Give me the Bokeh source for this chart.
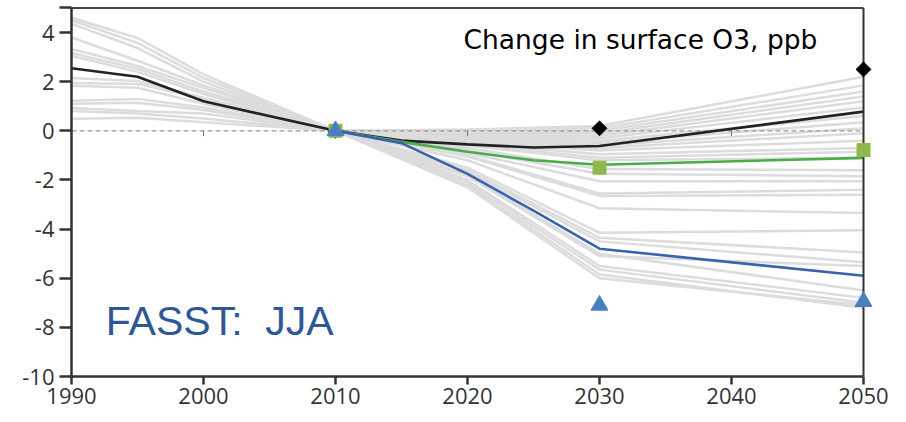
from bokeh.plotting import figure
from bokeh.models import Range1d, FixedTicker, Label
from bokeh.embed import file_html
from bokeh.resources import INLINE
import math

# ---- historical spread (1990-2010), one list per scenario ----
hist_years = [1990, 1995, 2000, 2010]
hist_gray = [
    [4.60, 3.78, 2.30, 0.0],
    [4.50, 3.58, 2.15, 0.0],
    [4.35, 3.37, 2.00, 0.0],
    [3.80, 2.85, 1.85, 0.0],
    [3.33, 2.64, 1.75, 0.0],
    [3.17, 2.52, 1.60, 0.0],
    [3.05, 2.40, 1.50, 0.0],
    [2.15, 2.03, 1.35, 0.0],
    [1.95, 1.91, 1.30, 0.0],
    [1.83, 1.75, 1.10, 0.0],
    [1.22, 1.30, 0.95, 0.0],
    [1.10, 1.14, 0.85, 0.0],
    [0.93, 0.81, 0.70, 0.0],
    [0.81, 0.70, 0.50, 0.0],
    [0.49, 0.53, 0.35, 0.0],
]

# ---- future scenario spread (2010-2050) ----
fut_years = [2010, 2020, 2030, 2050]
fut_gray = [
    [0.0, 0.05, 0.20, 2.20],
    [0.0, 0.00, 0.10, 1.85],
    [0.0, -0.05, 0.00, 1.60],
    [0.0, -0.10, -0.10, 1.40],
    [0.0, -0.15, -0.20, 1.20],
    [0.0, -0.20, -0.30, 0.95],
    [0.0, -0.25, -0.40, 0.60],
    [0.0, -0.30, -0.50, 0.35],
    [0.0, -0.35, -0.60, 0.10],
    [0.0, -0.40, -0.70, -0.10],
    [0.0, -0.45, -0.80, -0.40],
    [0.0, -0.50, -0.95, -0.70],
    [0.0, -0.55, -1.10, -0.85],
    [0.0, -0.60, -1.20, -1.10],
    [0.0, -0.70, -1.55, -1.60],
    [0.0, -0.80, -1.75, -1.85],
    [0.0, -0.90, -2.05, -2.05],
    [0.0, -1.00, -2.55, -2.40],
    [0.0, -1.05, -2.65, -2.60],
    [0.0, -1.20, -3.15, -3.35],
    [0.0, -1.50, -4.15, -4.05],
    [0.0, -1.60, -4.35, -4.95],
    [0.0, -1.65, -4.50, -5.35],
    [0.0, -1.85, -5.10, -5.50],
    [0.0, -1.80, -5.00, -6.50],
    [0.0, -2.00, -5.50, -6.80],
    [0.0, -2.10, -5.65, -7.00],
    [0.0, -2.30, -6.00, -7.10],
    [0.0, -2.20, -5.85, -7.20],
]

# ---- highlighted model lines ----
black_years = [1990, 1995, 2000, 2010, 2015, 2020, 2025, 2030, 2050]
black_vals = [2.55, 2.2, 1.2, 0.0, -0.4, -0.55, -0.68, -0.62, 0.78]

green_years = [2010, 2015, 2020, 2025, 2030, 2050]
green_vals = [0.0, -0.45, -0.85, -1.2, -1.38, -1.1]

blue_years = [2010, 2015, 2020, 2025, 2030, 2050]
blue_vals = [0.0, -0.5, -1.75, -3.25, -4.8, -5.9]

# ---- point estimates ----
mark_years = [2010, 2030, 2050]
diamond_vals = [0.0, 0.1, 2.5]
square_vals = [0.0, -1.5, -0.78]
triangle_vals = [0.0, -7.1, -6.95]

x_ticks = [1990, 2000, 2010, 2020, 2030, 2040, 2050]
y_ticks = [-10, -8, -6, -4, -2, 0, 2, 4, 5]
zero_ticks = [2000, 2020, 2040]

X0, X1 = 1990, 2050
Y0, Y1 = -10, 5

p = figure(width=906, height=422, output_backend="svg", toolbar_location=None,
           x_range=Range1d(X0, 2052.5), y_range=Range1d(Y0, 5.06),
           min_border_left=71, min_border_right=10, min_border_top=6,
           min_border_bottom=46)
p.outline_line_color = None
p.grid.visible = False
p.background_fill_color = "white"
p.border_fill_color = "white"

gray = "#dcdcdc"
p.multi_line([hist_years] * len(hist_gray), hist_gray, line_color=gray, line_width=2.5)
p.multi_line([fut_years] * len(fut_gray), fut_gray, line_color=gray, line_width=2.5)

# dashed zero reference with small ticks
p.line([X0, X1], [0, 0], line_color="#9a9a9a", line_width=1.2, line_dash="5 3")
p.segment(x0=zero_ticks, y0=[0] * 3, x1=zero_ticks, y1=[-0.22] * 3,
          line_color="#777777", line_width=1)

p.line(black_years, black_vals, line_color="#222222", line_width=2.6)
p.line(green_years, green_vals, line_color="#4aac48", line_width=2.6)
p.line(blue_years, blue_vals, line_color="#3a63ad", line_width=2.6)

# frame: top and right borders
p.segment(x0=[X0], y0=[Y1], x1=[X1], y1=[Y1], line_color="#444444", line_width=2)
p.segment(x0=[X1], y0=[Y0], x1=[X1], y1=[Y1], line_color="#333333", line_width=2)

p.scatter(mark_years, diamond_vals, marker="square", angle=math.pi / 4, size=10.5,
          fill_color="black", line_color="black")
p.scatter(mark_years, square_vals, marker="square", size=13,
          fill_color="#8fb84c", line_color="#8fb84c")
p.scatter(mark_years, triangle_vals, marker="triangle", size=17,
          fill_color="#4a7ec2", line_color="#4a7ec2")

p.add_layout(Label(x=2019.7, y=3.70, text="Change in surface O3, ppb",
                   text_font="DejaVu Sans", text_font_size="26.5px",
                   text_color="black", text_baseline="alphabetic"))
p.add_layout(Label(x=1992.6, y=-7.76, text="FASST:\u00a0\u00a0JJA",
                   text_font="Liberation Sans", text_font_size="41px",
                   text_color="#2e5895", text_baseline="alphabetic"))

for ax in (p.xaxis[0], p.yaxis[0]):
    ax.axis_line_color = "#333333"
    ax.axis_line_width = 2.5
    ax.major_tick_line_color = "#333333"
    ax.major_tick_line_width = 2.5
    ax.major_tick_in = 0
    ax.minor_tick_in = 0
    ax.minor_tick_out = 0
    ax.major_label_text_font = "Open Sans"
    ax.major_label_text_font_size = "22px"
    ax.major_label_text_color = "#333333"

p.xaxis.ticker = FixedTicker(ticks=x_ticks)
p.xaxis.bounds = (X0, X1)
p.xaxis.major_tick_out = 8
p.xaxis.major_label_standoff = 3

p.yaxis.ticker = FixedTicker(ticks=y_ticks)
p.yaxis.bounds = (Y0, Y1)
p.yaxis.major_tick_out = 12
p.yaxis.major_label_standoff = 5
# plain hyphen for negative labels; the frame-top tick stays unlabeled
p.yaxis.major_label_overrides = {t: ("" if t == 5 else str(t)) for t in y_ticks}

open("out.html", "w").write(file_html(p, INLINE))
